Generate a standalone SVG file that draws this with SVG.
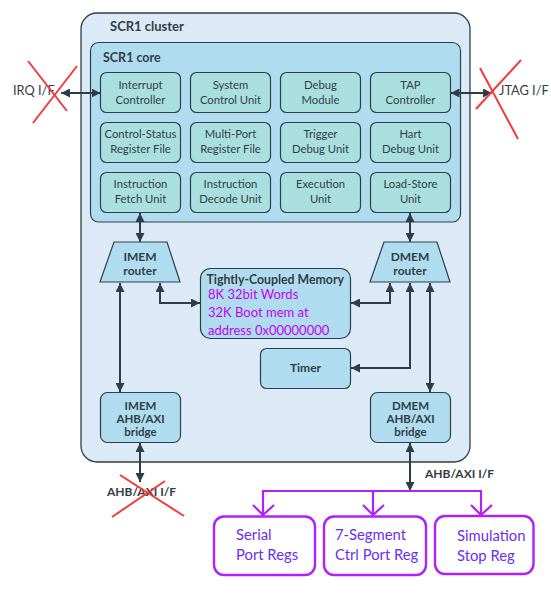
<svg xmlns="http://www.w3.org/2000/svg" width="551" height="600" viewBox="0 0 551 600">
<defs>
<style>
text{font-family:Lato,"Open Sans","Liberation Sans",sans-serif;fill:#333d45}
.unit{fill:#aadfe0;stroke:#2f3f4a;stroke-width:1.2}
.blk{fill:#b0dcef;stroke:#2f3f4a;stroke-width:1.2}
.u{font-size:11.3px;text-anchor:middle}
.b{font-size:12px;font-weight:bold;text-anchor:middle}
.bb{font-size:11.5px;font-weight:bold;text-anchor:middle}
.title{font-size:13px;font-weight:bold}
.conn{fill:none;stroke:#2d3d48;stroke-width:2}
.pline{fill:none;stroke:#b020f8;stroke-width:2.2}
.pbox{fill:#ffffff;stroke:#b020f8;stroke-width:2.4}
.ptxt{font-size:14.8px;fill:#6a2ef2}
.mem{font-size:13px;fill:#c000f0}
.lbl{font-size:12px;font-weight:bold}
.if{font-size:12.8px}
.x{stroke:#f03c3c;stroke-width:2}
</style>
<marker id="ah" viewBox="0 0 10 10" refX="10" refY="5" markerWidth="9" markerHeight="9" markerUnits="userSpaceOnUse" orient="auto-start-reverse">
<path d="M0,0 L10,5 L0,10 z" fill="#2d3d48"/>
</marker>
</defs>

<g id="cluster">
<rect x="81" y="13" width="389" height="449" rx="16" fill="#dbeaf6" stroke="#2f3f4a" stroke-width="1.3"/>
<text x="110" y="31" class="title">SCR1 cluster</text>
</g>

<g id="core">
<rect x="90.5" y="42.5" width="370" height="179.5" rx="8" fill="#b0dcef" stroke="#2f3f4a" stroke-width="1.2"/>
<text x="103" y="62" class="title" style="font-size:12.5px">SCR1 core</text>
</g>

<g id="interrupt-controller"><rect class="unit" x="100.5" y="72.5" width="80" height="40" rx="6"/><text class="u" x="140.5" y="89">Interrupt</text><text class="u" x="140.5" y="104">Controller</text></g>
<g id="system-control-unit"><rect class="unit" x="190.5" y="72.5" width="80" height="40" rx="6"/><text class="u" x="230.5" y="89">System</text><text class="u" x="230.5" y="104">Control Unit</text></g>
<g id="debug-module"><rect class="unit" x="280.5" y="72.5" width="80" height="40" rx="6"/><text class="u" x="320.5" y="89">Debug</text><text class="u" x="320.5" y="104">Module</text></g>
<g id="tap-controller"><rect class="unit" x="370.5" y="72.5" width="80" height="40" rx="6"/><text class="u" x="410.5" y="89">TAP</text><text class="u" x="410.5" y="104">Controller</text></g>

<g id="csr-file"><rect class="unit" x="100.5" y="122.5" width="80" height="40" rx="6"/><text class="u" x="140.5" y="138">Control-Status</text><text class="u" x="140.5" y="153">Register File</text></g>
<g id="mprf"><rect class="unit" x="190.5" y="122.5" width="80" height="40" rx="6"/><text class="u" x="230.5" y="138">Multi-Port</text><text class="u" x="230.5" y="153">Register File</text></g>
<g id="trigger-debug"><rect class="unit" x="280.5" y="122.5" width="80" height="40" rx="6"/><text class="u" x="320.5" y="138">Trigger</text><text class="u" x="320.5" y="153">Debug Unit</text></g>
<g id="hart-debug"><rect class="unit" x="370.5" y="122.5" width="80" height="40" rx="6"/><text class="u" x="410.5" y="138">Hart</text><text class="u" x="410.5" y="153">Debug Unit</text></g>

<g id="ifu"><rect class="unit" x="100.5" y="172.5" width="80" height="40" rx="6"/><text class="u" x="140.5" y="188">Instruction</text><text class="u" x="140.5" y="203">Fetch Unit</text></g>
<g id="idu"><rect class="unit" x="190.5" y="172.5" width="80" height="40" rx="6"/><text class="u" x="230.5" y="188">Instruction</text><text class="u" x="230.5" y="203">Decode Unit</text></g>
<g id="exu"><rect class="unit" x="280.5" y="172.5" width="80" height="40" rx="6"/><text class="u" x="320.5" y="188">Execution</text><text class="u" x="320.5" y="203">Unit</text></g>
<g id="lsu"><rect class="unit" x="370.5" y="172.5" width="80" height="40" rx="6"/><text class="u" x="410.5" y="188">Load-Store</text><text class="u" x="410.5" y="203">Unit</text></g>

<g id="imem-router"><polygon class="blk" points="114,242 167,242 180,282 100,282"/><text class="b" x="140" y="261">IMEM</text><text class="b" x="140" y="275">router</text></g>
<g id="dmem-router"><polygon class="blk" points="384,242 437,242 450,282 370,282"/><text class="b" x="410" y="261">DMEM</text><text class="b" x="410" y="275">router</text></g>

<g id="tcm"><rect class="blk" x="200.5" y="268.5" width="150" height="70" rx="10"/>
<text class="lbl" x="206.5" y="283.5" style="font-size:12.3px">Tightly-Coupled Memory</text>
<text class="mem" x="208" y="298.5">8K 32bit Words</text>
<text class="mem" x="208" y="316.5">32K Boot mem at</text>
<text class="mem" x="208" y="334.5">address 0x00000000</text></g>

<g id="timer"><rect class="blk" x="260.5" y="348.5" width="90" height="40" rx="6"/><text class="b" x="305.5" y="372">Timer</text></g>

<g id="imem-bridge"><rect class="blk" x="100.5" y="392.5" width="80" height="50" rx="7"/><text class="bb" x="140.5" y="409.5">IMEM</text><text class="bb" x="140.5" y="422.5">AHB/AXI</text><text class="bb" x="140.5" y="435.5">bridge</text></g>
<g id="dmem-bridge"><rect class="blk" x="370.5" y="392.5" width="80" height="50" rx="7"/><text class="bb" x="410.5" y="409.5">DMEM</text><text class="bb" x="410.5" y="422.5">AHB/AXI</text><text class="bb" x="410.5" y="435.5">bridge</text></g>

<g id="connectors">
<line class="conn" x1="61" y1="93" x2="100.5" y2="93" marker-start="url(#ah)" marker-end="url(#ah)"/>
<line class="conn" x1="450.5" y1="93" x2="492" y2="93" marker-start="url(#ah)" marker-end="url(#ah)"/>
<line class="conn" x1="140" y1="213" x2="140" y2="242" marker-start="url(#ah)" marker-end="url(#ah)"/>
<line class="conn" x1="410" y1="213" x2="410" y2="242" marker-start="url(#ah)" marker-end="url(#ah)"/>
<line class="conn" x1="120" y1="283" x2="120" y2="392" marker-start="url(#ah)" marker-end="url(#ah)"/>
<path class="conn" d="M160 283 V303 H200" marker-start="url(#ah)" marker-end="url(#ah)"/>
<path class="conn" d="M390 283 V303 H351" marker-start="url(#ah)" marker-end="url(#ah)"/>
<path class="conn" d="M410 283 V368 H351" marker-start="url(#ah)" marker-end="url(#ah)"/>
<line class="conn" x1="430" y1="283" x2="430" y2="392" marker-start="url(#ah)" marker-end="url(#ah)"/>
<line class="conn" x1="140" y1="443" x2="140" y2="482" marker-start="url(#ah)" marker-end="url(#ah)"/>
<line class="conn" x1="410" y1="443" x2="410" y2="491" marker-start="url(#ah)" marker-end="url(#ah)"/>
<path class="pline" d="M263 516 V491 H481 V516 M373 491 V516"/>
<polyline class="pline" points="253,505 263,515 274,505"/>
<polyline class="pline" points="363,505 373,515 384,505"/>
<polyline class="pline" points="471,505 481,515 492,505"/>
</g>

<g id="irq-if"><text class="if" x="13" y="95">IRQ I/F</text><line class="x" x1="28" y1="61" x2="67" y2="111"/><line class="x" x1="77" y1="66" x2="33" y2="123"/></g>
<g id="jtag-if"><text class="if" x="499" y="95">JTAG I/F</text><line class="x" x1="480" y1="68" x2="518" y2="139"/><line class="x" x1="521" y1="60" x2="476" y2="109"/></g>
<g id="imem-ahb-if"><text class="lbl" x="107" y="496">AHB/AXI I/F</text><line class="x" x1="120" y1="475" x2="184" y2="516"/><line class="x" x1="165" y1="481" x2="112" y2="517"/></g>
<g id="dmem-ahb-if"><text class="lbl" x="425" y="478">AHB/AXI I/F</text></g>

<g id="serial-port"><rect class="pbox" x="214" y="516.5" width="101" height="58.5" rx="10"/><text class="ptxt" x="236" y="540">Serial</text><text class="ptxt" x="236" y="560">Port Regs</text></g>
<g id="seven-seg"><rect class="pbox" x="324" y="516.5" width="102" height="58.5" rx="10"/><text class="ptxt" x="335" y="540">7-Segment</text><text class="ptxt" x="335" y="560">Ctrl Port Reg</text></g>
<g id="sim-stop"><rect class="pbox" x="435" y="516" width="98.5" height="58" rx="10"/><text class="ptxt" x="457" y="541">Simulation</text><text class="ptxt" x="457" y="561">Stop Reg</text></g>
</svg>
